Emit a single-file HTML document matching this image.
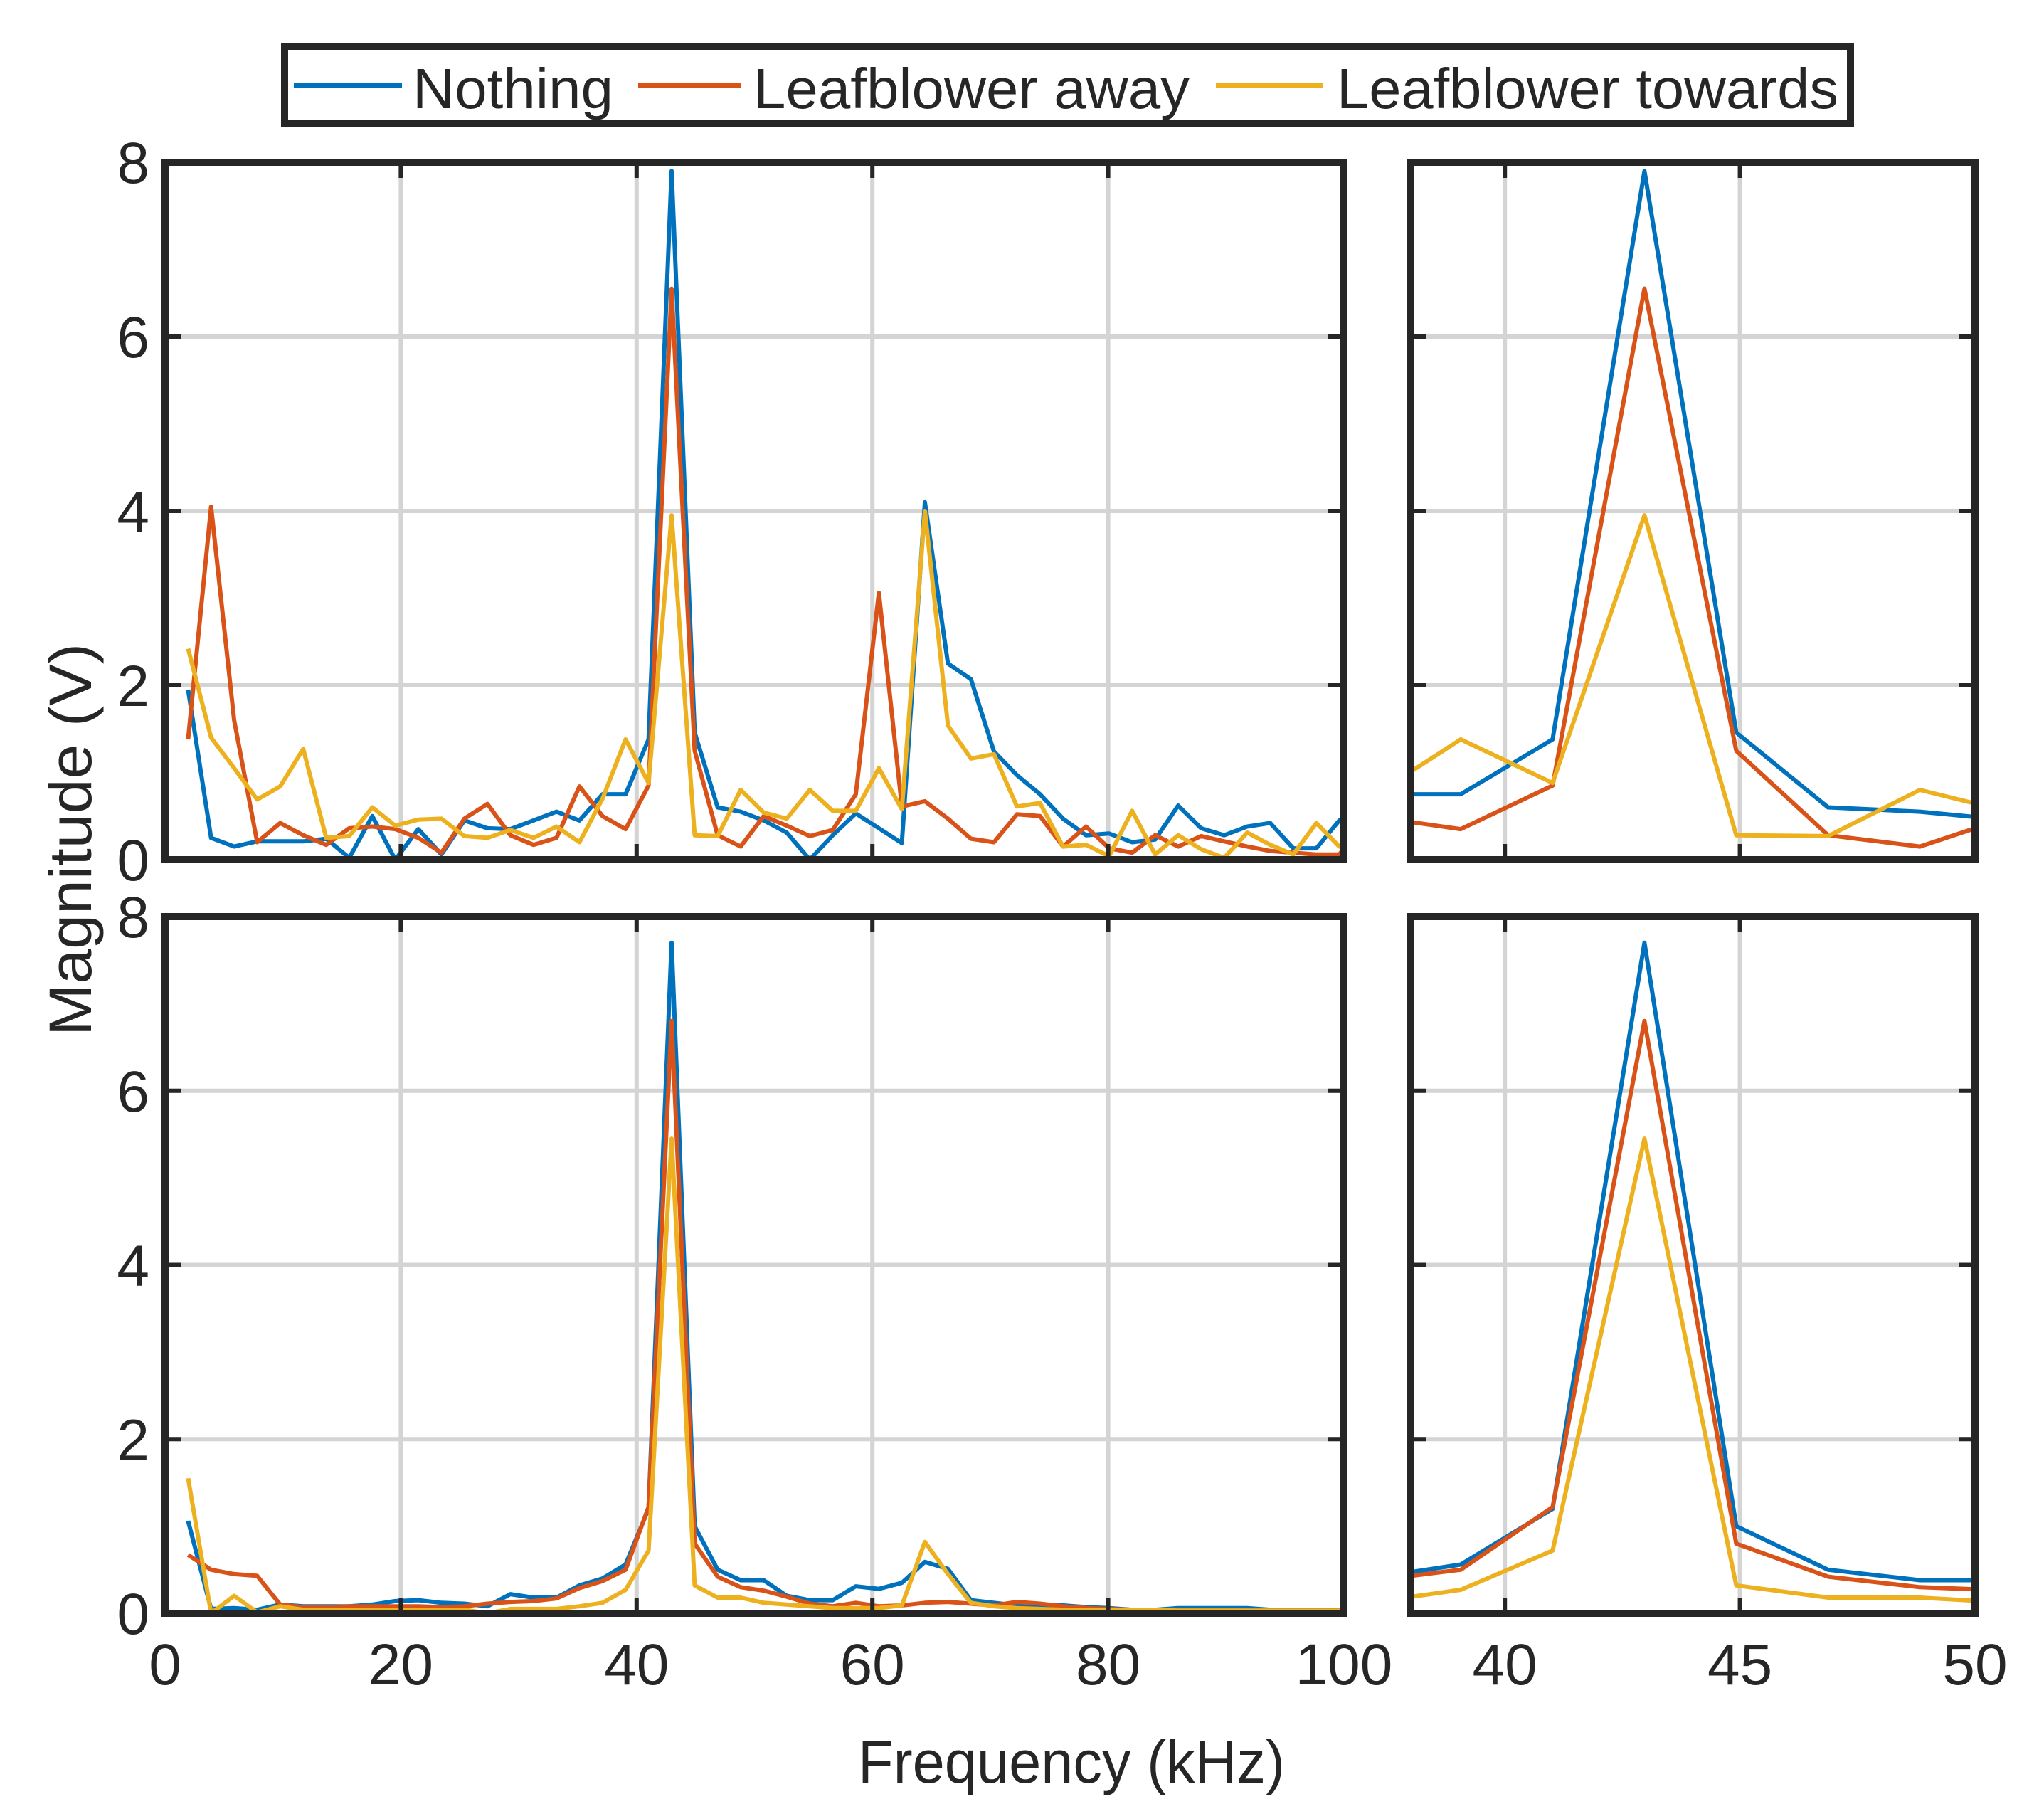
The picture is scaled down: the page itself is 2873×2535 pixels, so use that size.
<!DOCTYPE html>
<html><head><meta charset="utf-8"><style>
html,body{margin:0;padding:0;background:#fff;}
svg{display:block;font-family:"Liberation Sans",Arial,sans-serif;}
</style></head><body>
<svg id="chart" width="2873" height="2535" viewBox="0 0 2873 2535" xmlns="http://www.w3.org/2000/svg">
<rect x="0" y="0" width="2873" height="2535" fill="#fff"/>
<g id="legend">
  <rect x="400" y="65" width="2201" height="108" fill="#fff" stroke="#262626" stroke-width="10"/>
  <g>
    <line x1="413" y1="120" x2="565" y2="120" stroke="#0072BD" stroke-width="7"/>
    <text x="580" y="152" font-size="80" fill="#262626" textLength="282" lengthAdjust="spacingAndGlyphs">Nothing</text>
  </g>
  <g>
    <line x1="897" y1="120" x2="1041" y2="120" stroke="#D95319" stroke-width="7"/>
    <text x="1059" y="152" font-size="80" fill="#262626" textLength="613" lengthAdjust="spacingAndGlyphs">Leafblower away</text>
  </g>
  <g>
    <line x1="1709" y1="120" x2="1860" y2="120" stroke="#EDB120" stroke-width="7"/>
    <text x="1879" y="152" font-size="80" fill="#262626" textLength="705" lengthAdjust="spacingAndGlyphs">Leafblower towards</text>
  </g>
</g>
<text x="0" y="0" font-size="84" fill="#262626" text-anchor="middle" textLength="552" lengthAdjust="spacingAndGlyphs" transform="translate(128,1180) rotate(-90)">Magnitude (V)</text>
<text x="1506" y="2505" font-size="84" fill="#262626" text-anchor="middle" textLength="600" lengthAdjust="spacingAndGlyphs">Frequency (kHz)</text>
<g id="plots"></g>
</svg>
<script>
// Frequency bins (kHz): k * 1.953125, k = 1..52
const binIndex = [1,2,3,4,5,6,7,8,9,10,11,12,13,14,15,16,17,18,19,20,21,22,23,24,25,26,27,28,29,30,31,32,33,34,35,36,37,38,39,40,41,42,43,44,45,46,47,48,49,50,51,52];
const binWidthKHz = 1.953125;

// Top panel series
const topNothing = [1.95,0.25,0.15,0.21,0.21,0.21,0.24,0.02,0.5,0.0,0.35,0.06,0.45,0.36,0.35,0.45,0.55,0.45,0.75,0.75,1.38,7.9,1.46,0.6,0.55,0.45,0.31,0.0,0.28,0.53,0.36,0.19,4.1,2.25,2.07,1.24,0.97,0.75,0.47,0.28,0.3,0.2,0.23,0.62,0.36,0.28,0.38,0.42,0.13,0.13,0.45,0.6];
const topAway = [1.38,4.05,1.6,0.2,0.42,0.28,0.17,0.36,0.38,0.35,0.25,0.08,0.47,0.64,0.28,0.17,0.25,0.84,0.5,0.35,0.85,6.55,1.25,0.28,0.15,0.5,0.39,0.27,0.34,0.75,3.06,0.61,0.67,0.47,0.24,0.2,0.52,0.5,0.15,0.38,0.13,0.08,0.28,0.15,0.27,0.21,0.15,0.1,0.08,0.06,0.06,0.4];
const topTowards = [2.42,1.4,1.05,0.69,0.84,1.27,0.25,0.27,0.6,0.39,0.46,0.47,0.27,0.25,0.34,0.25,0.38,0.2,0.7,1.38,0.88,3.95,0.28,0.27,0.8,0.54,0.47,0.8,0.56,0.56,1.05,0.58,4.0,1.54,1.16,1.21,0.61,0.65,0.15,0.17,0.04,0.56,0.06,0.28,0.12,0.02,0.31,0.17,0.06,0.42,0.15,0.1];

// Bottom panel series
const botNothing = [1.06,0.05,0.06,0.04,0.1,0.08,0.08,0.08,0.1,0.14,0.15,0.12,0.11,0.08,0.22,0.18,0.18,0.32,0.4,0.56,1.2,7.7,1.0,0.5,0.38,0.38,0.2,0.15,0.15,0.31,0.28,0.35,0.59,0.51,0.15,0.12,0.09,0.09,0.09,0.07,0.06,0.04,0.04,0.06,0.06,0.06,0.06,0.04,0.04,0.04,0.04,0.04];
const botAway = [0.67,0.5,0.45,0.43,0.1,0.07,0.07,0.08,0.08,0.08,0.08,0.07,0.08,0.11,0.13,0.14,0.17,0.29,0.37,0.5,1.22,6.8,0.8,0.42,0.3,0.26,0.19,0.11,0.08,0.12,0.08,0.09,0.12,0.13,0.11,0.09,0.13,0.11,0.08,0.06,0.05,0.04,0.04,0.04,0.04,0.04,0.03,0.03,0.03,0.03,0.03,0.03];
const botTowards = [1.55,0.0,0.2,0.01,0.08,0.04,0.04,0.04,0.04,0.04,0.04,0.04,0.04,0.0,0.05,0.05,0.05,0.08,0.12,0.27,0.72,5.45,0.32,0.18,0.18,0.12,0.1,0.08,0.06,0.06,0.06,0.09,0.82,0.45,0.12,0.08,0.06,0.05,0.04,0.04,0.04,0.04,0.04,0.03,0.03,0.03,0.03,0.03,0.03,0.03,0.03,0.03];

// Axis tick labels
const yTicks = [0,2,4,6,8];
const xTicksMain = [0,20,40,60,80,100];
const xTicksZoom = [40,45,50];

const NS = 'http://www.w3.org/2000/svg';
const plots = document.getElementById('plots');
const colors = ['#0072BD','#D95319','#EDB120'];
const seriesNames = ['nothing','leafblower-away','leafblower-towards'];

function mk(tag, attrs, parent) {
  const e = document.createElementNS(NS, tag);
  for (const k in attrs) e.setAttribute(k, attrs[k]);
  parent.appendChild(e);
  return e;
}

function panel(id, px0, px1, py0, py1, xmin, xmax, xTicks, showYLabels, showXLabels, series) {
  const g = mk('g', {}, plots);
  
  
  const xs = v => px0 + (v - xmin) / (xmax - xmin) * (px1 - px0);
  const ys = v => py1 - v / 8 * (py1 - py0);
  // grid
  const grid = mk('g', {stroke: '#d4d4d4', 'stroke-width': 6}, g);
  
  
  xTicks.forEach(t => { if (t > xmin && t < xmax) mk('line', {x1: xs(t), x2: xs(t), y1: py0, y2: py1}, grid); });
  yTicks.forEach(t => { if (t > 0 && t < 8) mk('line', {x1: px0, x2: px1, y1: ys(t), y2: ys(t)}, grid); });
  // clip
  const cp = mk('clipPath', {id: id + '-clip'}, g);
  mk('rect', {x: px0, y: py0 - 4, width: px1 - px0, height: py1 - py0 + 4}, cp);
  const lines = mk('g', {'clip-path': 'url(#' + id + '-clip)'}, g);
  series.forEach((s, i) => {
    const pts = binIndex.map((k, j) => xs(k * binWidthKHz).toFixed(1) + ',' + ys(s[j]).toFixed(1)).join(' ');
    const pl = mk('polyline', {points: pts, fill: 'none', stroke: colors[i], 'stroke-width': 6, 'stroke-linejoin': 'round'}, lines);
    
    
  });
  // ticks
  const tk = mk('g', {stroke: '#262626', 'stroke-width': 6}, g);
  xTicks.forEach(t => {
    if (t >= xmin && t <= xmax) {
      mk('line', {x1: xs(t), x2: xs(t), y1: py1, y2: py1 - 22}, tk);
      mk('line', {x1: xs(t), x2: xs(t), y1: py0, y2: py0 + 22}, tk);
    }
  });
  yTicks.forEach(t => {
    mk('line', {x1: px0, x2: px0 + 22, y1: ys(t), y2: ys(t)}, tk);
    mk('line', {x1: px1, x2: px1 - 22, y1: ys(t), y2: ys(t)}, tk);
  });
  // frame
  const fr = mk('rect', {x: px0, y: py0, width: px1 - px0, height: py1 - py0, fill: 'none', stroke: '#262626', 'stroke-width': 10}, g);
  
  
  if (showYLabels) {
    yTicks.forEach(t => {
      const tx = mk('text', {x: px0 - 22, y: ys(t) + 29, 'font-size': 82, fill: '#262626', 'text-anchor': 'end'}, g);
      
      
      tx.textContent = t;
    });
  }
  if (showXLabels) {
    xTicks.forEach(t => {
      const tx = mk('text', {x: xs(t), y: 2367, 'font-size': 82, fill: '#262626', 'text-anchor': 'middle'}, g);
      
      
      tx.textContent = t;
    });
  }
}

panel('top-main-panel', 232, 1889, 228, 1208, 0, 100, xTicksMain, true, false, [topNothing, topAway, topTowards]);
panel('top-zoom-panel', 1983, 2776, 228, 1208, 38, 50, xTicksZoom, false, false, [topNothing, topAway, topTowards]);
panel('bottom-main-panel', 232, 1889, 1288, 2267, 0, 100, xTicksMain, true, true, [botNothing, botAway, botTowards]);
panel('bottom-zoom-panel', 1983, 2776, 1288, 2267, 38, 50, xTicksZoom, false, true, [botNothing, botAway, botTowards]);
</script>
</body></html>
